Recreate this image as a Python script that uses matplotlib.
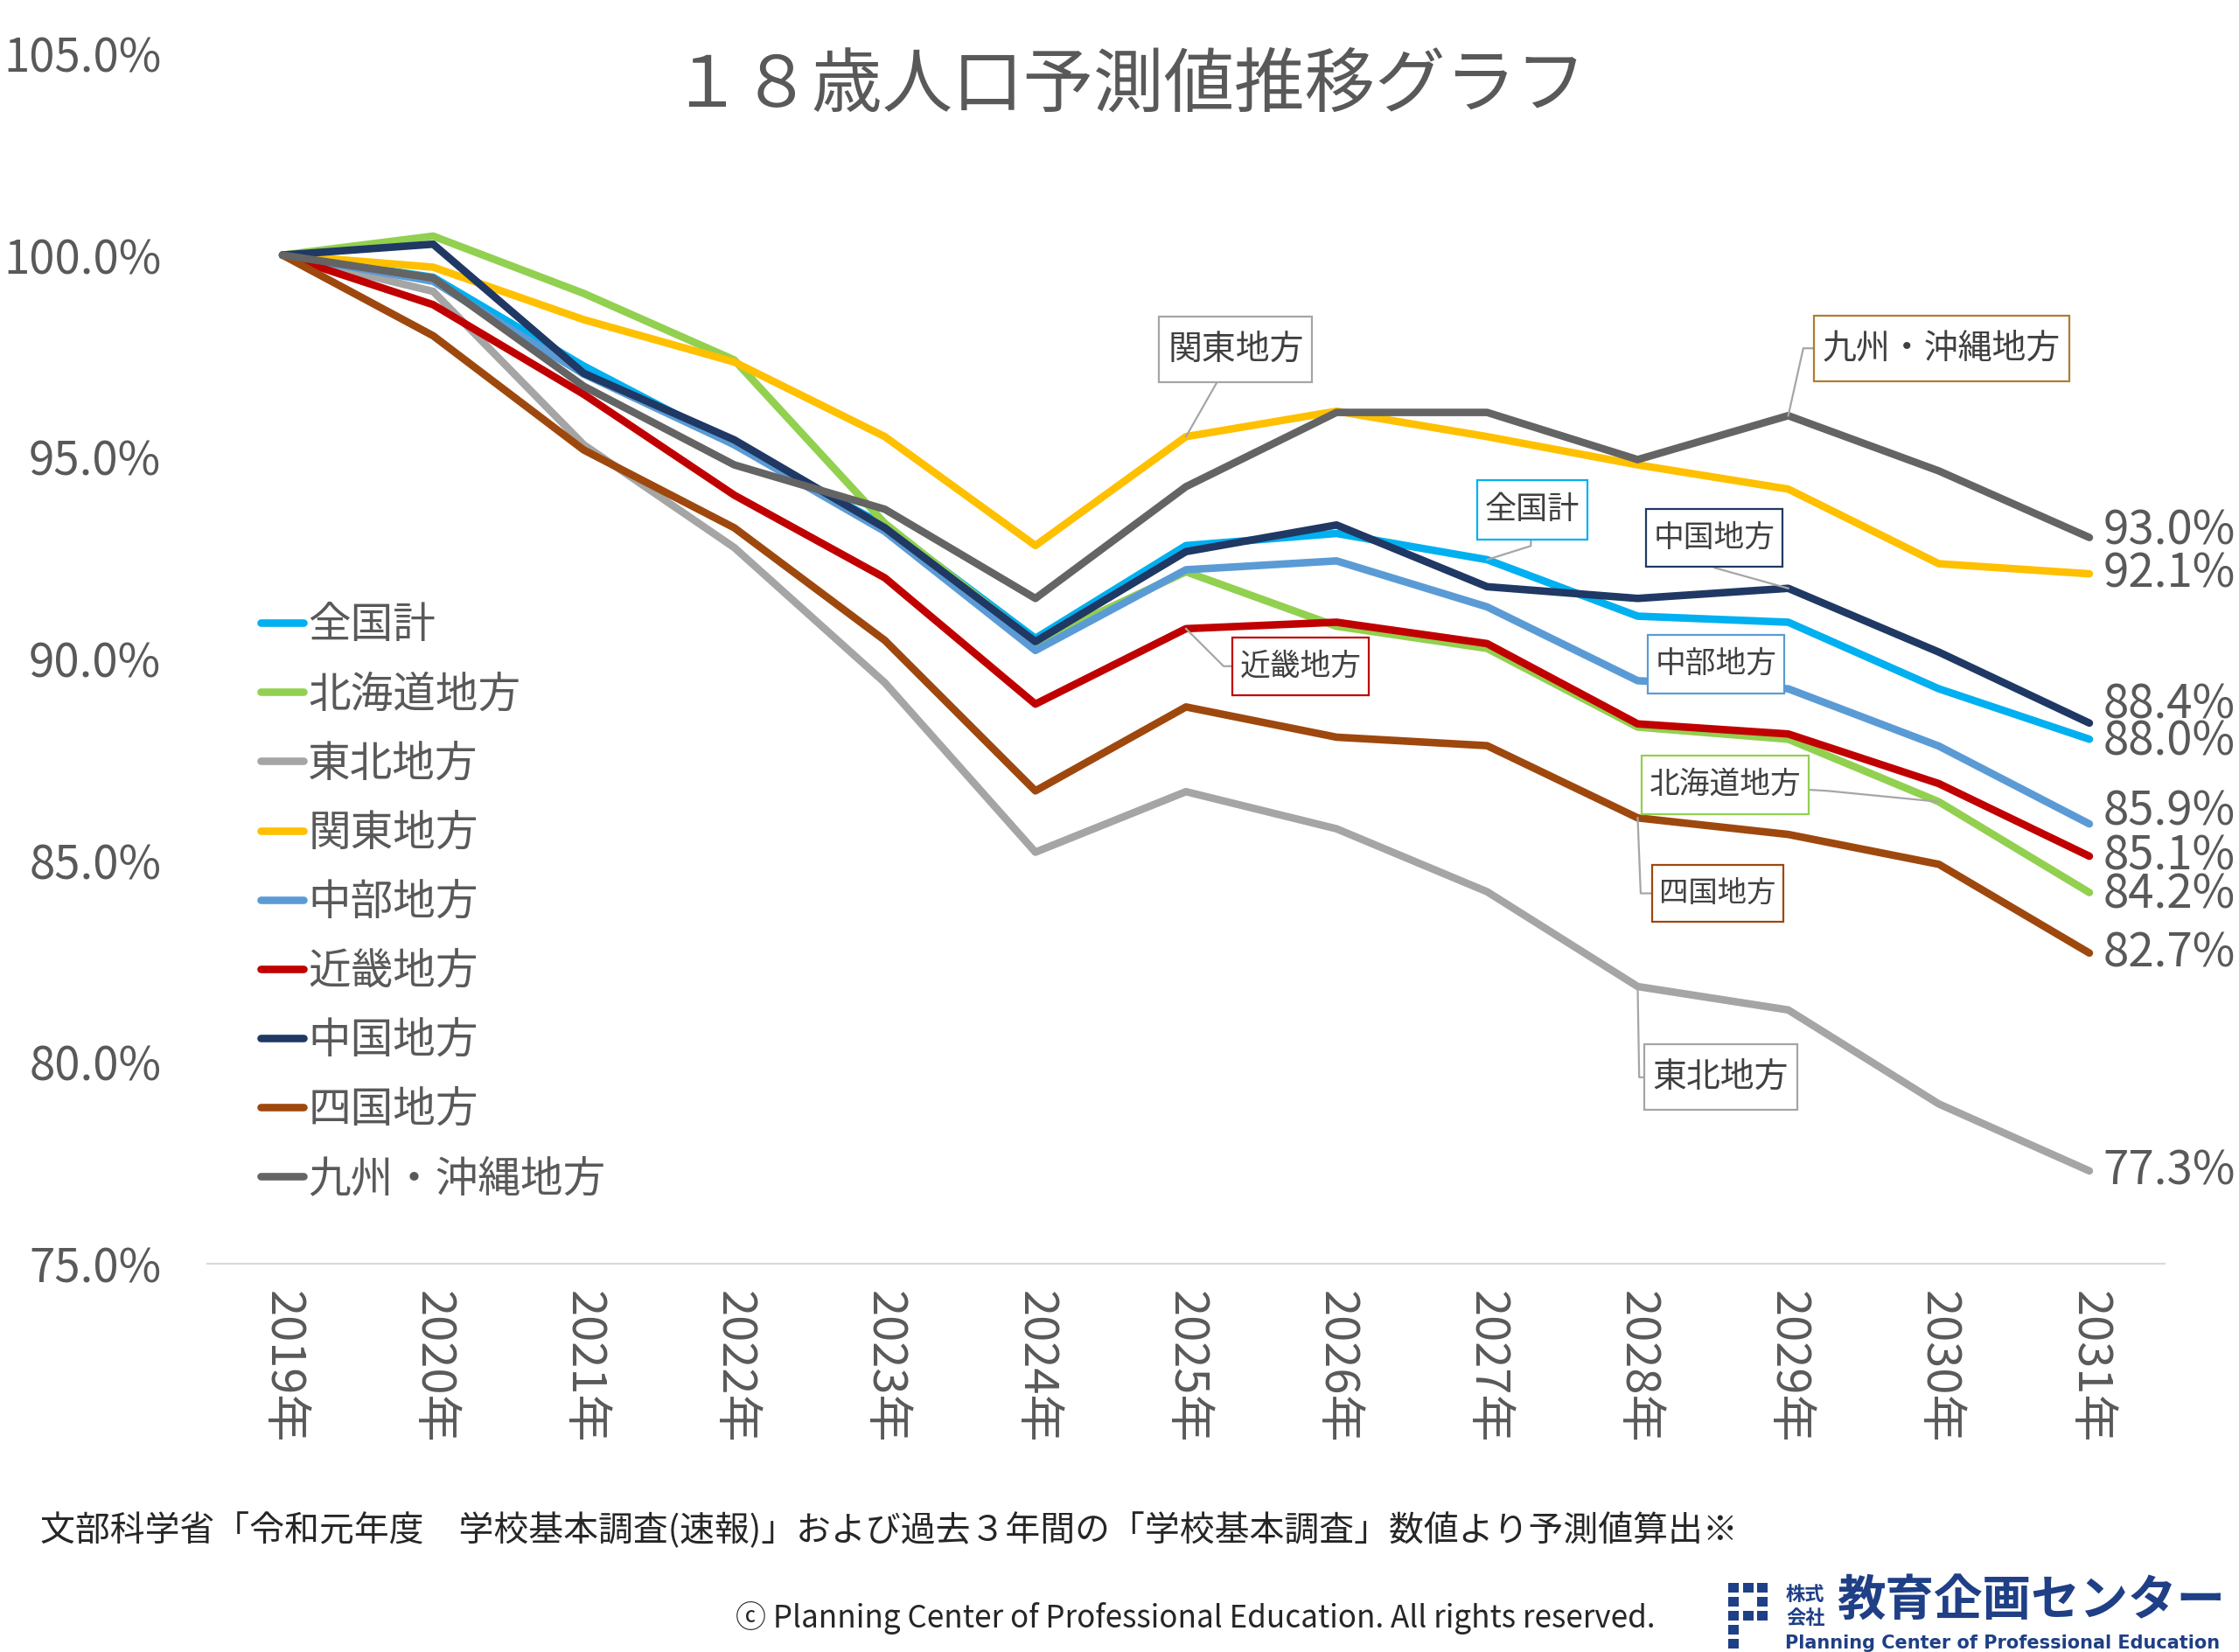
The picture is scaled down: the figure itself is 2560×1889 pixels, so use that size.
import matplotlib
matplotlib.use('Agg')
import matplotlib.pyplot as plt
from matplotlib.patches import Rectangle
from matplotlib.path import Path

plt.rcParams['font.family'] = ['Noto Sans CJK JP', 'DejaVu Sans']

# ---- data ----
years = ['2019年', '2020年', '2021年', '2022年', '2023年', '2024年', '2025年',
         '2026年', '2027年', '2028年', '2029年', '2030年', '2031年']
regions = ['全国計', '北海道地方', '東北地方', '関東地方', '中部地方',
           '近畿地方', '中国地方', '四国地方', '九州・沖縄地方']
zenkoku = [100.0, 99.45, 97.25, 95.3, 93.3, 90.5, 92.8, 93.1, 92.45, 91.05, 90.9, 89.25, 88.0]
hokkaido = [100.0, 100.47, 99.05, 97.4, 93.35, 90.4, 92.15, 90.8, 90.25, 88.3, 88.0, 86.45, 84.2]
tohoku = [100.0, 99.1, 95.3, 92.75, 89.4, 85.2, 86.7, 85.78, 84.22, 81.87, 81.29, 78.96, 77.3]
kanto = [100.0, 99.7, 98.4, 97.35, 95.5, 92.8, 95.5, 96.13, 95.5, 94.8, 94.2, 92.35, 92.1]
chubu = [100.0, 99.35, 97.05, 95.3, 93.15, 90.2, 92.2, 92.42, 91.28, 89.45, 89.25, 87.83, 85.9]
kinki = [100.0, 98.77, 96.55, 94.05, 92.0, 88.87, 90.74, 90.9, 90.37, 88.38, 88.13, 86.9, 85.1]
chugoku = [100.0, 100.27, 97.07, 95.42, 93.24, 90.42, 92.65, 93.31, 91.78, 91.49, 91.74, 90.16, 88.4]
shikoku = [100.0, 98.0, 95.17, 93.24, 90.45, 86.72, 88.8, 88.05, 87.84, 86.05, 85.64, 84.9, 82.7]
kyushu = [100.0, 99.43, 96.75, 94.8, 93.7, 91.49, 94.26, 96.1, 96.1, 94.93, 96.02, 94.65, 93.0]
series = [zenkoku, hokkaido, tohoku, kanto, chubu, kinki, chugoku, shikoku, kyushu]

colors = ['#00B0F0', '#92D050', '#A5A5A5', '#FFC000', '#5B9BD5',
          '#C00000', '#203864', '#9E480E', '#646464']
# small vertical nudges of the end labels (as in the original)
end_nudge = [-0.07, -0.05, 0.0, 0.0, 0.3, 0.0, 0.45, 0.0, 0.17]

# callouts: text, series, year index, box centre, elbow points, size, edge colour
callouts = [
    ('関東地方', 3, 6, (6.33, 97.66), [], 28, '#A5A5A5'),
    ('九州・沖縄地方', 8, 10, (11.02, 97.69), [(10.1, 97.69)], 28, '#B07D2E'),
    ('全国計', 0, 8, (8.30, 93.68), [(8.29, 92.79)], 26, '#00B0F0'),
    ('中国地方', 6, 10, (9.51, 92.99), [(9.51, 92.25)], 25, '#203864'),
    ('中部地方', 4, 9, (9.52, 89.86), None, 25, '#5B9BD5'),
    ('近畿地方', 5, 6, (6.76, 89.81), [(6.25, 89.81)], 25, '#C00000'),
    ('北海道地方', 1, 11, (9.58, 86.87), [(10.26, 86.72)], 25, '#92D050'),
    ('四国地方', 7, 9, (9.53, 84.18), [(9.02, 84.18)], 24, '#9E480E'),
    ('東北地方', 2, 9, (9.55, 79.62), [(9.01, 79.62)], 28, '#A5A5A5'),
]

title = '１８歳人口予測値推移グラフ'
source_note = '文部科学省「令和元年度　学校基本調査(速報)」および過去３年間の「学校基本調査」数値より予測値算出※'
copyright_note = 'ⓒ Planning Center of Professional Education. All rights reserved.'


def callout_box(x0, y0, width, height, mutation_size):
    # square box, a bit more padding top/bottom than left/right
    px = 0.25 * mutation_size
    py = 0.45 * mutation_size
    x0, y0 = x0 - px, y0 - py
    x1, y1 = x0 + width + 2 * px, y0 + height + 2 * py
    return Path([(x0, y0), (x1, y0), (x1, y1), (x0, y1), (x0, y0)], closed=True)


W, H = 2560, 1889
fig = plt.figure(figsize=(W / 100, H / 100), dpi=100)
ax = fig.add_axes([237 / W, 1 - 1445 / H, (2475 - 237) / W, (1445 - 61) / H])

txt = '#595959'
x = list(range(len(years)))
lines = []
for vals, c, name in zip(series, colors, regions):
    ln, = ax.plot(x, vals, color=c, lw=6.2, solid_capstyle='round',
                  solid_joinstyle='round', label=name, zorder=3)
    lines.append(ln)

# end-of-line value labels
for vals, nud in zip(series, end_nudge):
    ax.annotate('{:.1f}%'.format(vals[-1]), xy=(x[-1], vals[-1] + nud),
                xytext=(11, 0), textcoords='offset points', ha='left',
                va='center', fontsize=38, color=txt, annotation_clip=False)

# callout boxes with leader lines
for text, si, yi, (bx, by), elbows, fs, ec in callouts:
    if elbows is not None:
        px = [x[yi]] + [e[0] for e in elbows] + [bx]
        py = [series[si][yi]] + [e[1] for e in elbows] + [by]
        ax.plot(px, py, color='#A6A6A6', lw=1.6, zorder=4)
    ax.text(bx, by, text, ha='center', va='center', fontsize=fs,
            color='#404040', zorder=5,
            bbox=dict(boxstyle=callout_box, fc='white', ec=ec, lw=1.6))

ax.set_xlim(-0.5, len(years) - 0.5)
ax.set_ylim(75, 105)
ax.set_xticks(x)
ax.set_xticklabels(years, rotation=270, fontsize=39, color=txt)
yt = [75, 80, 85, 90, 95, 100, 105]
ax.set_yticks(yt)
ax.set_yticklabels(['{:.1f}%'.format(v) for v in yt], fontsize=38, color=txt)
ax.tick_params(axis='both', length=0)
ax.tick_params(axis='y', pad=38)
ax.tick_params(axis='x', pad=22)
for s in ['top', 'right', 'left']:
    ax.spines[s].set_visible(False)
ax.spines['bottom'].set_color('#D9D9D9')
ax.spines['bottom'].set_linewidth(1.5)

leg = ax.legend(handles=lines, loc='center left',
                bbox_to_anchor=(298 / W, 1 - 1032 / H),
                bbox_transform=fig.transFigure, frameon=False, fontsize=35,
                handlelength=1.0, handletextpad=0.12, labelspacing=0.61,
                borderpad=0, borderaxespad=0, labelcolor=txt)

fig.text(1290 / W, 1 - 98 / H, title, ha='center', va='center',
         fontsize=58, color=txt)
fig.text(46 / W, 1 - 1750 / H, source_note, ha='left', va='center',
         fontsize=28.7, color='#262626')
fig.text(841 / W, 1 - 1850 / H, copyright_note, ha='left', va='center',
         fontsize=25.2, color='#262626')

# company logo
navy = '#1F3F86'
cells = [(0, 0), (0, 1), (0, 2), (1, 0), (1, 2), (2, 0), (2, 1), (2, 2), (3, 0), (4, 0)]
for r, c in cells:
    px0 = 1976 + c * 16.5
    py0 = 1810 + r * 16
    fig.add_artist(Rectangle((px0 / W, 1 - (py0 + 11) / H), 12 / W, 11 / H,
                             transform=fig.transFigure, color=navy, lw=0))
fig.text(2042 / W, 1 - 1824 / H, '株式', ha='left', va='center', fontsize=16,
         color=navy, weight='bold')
fig.text(2042 / W, 1 - 1850 / H, '会社', ha='left', va='center', fontsize=16,
         color=navy, weight='bold')
fig.text(2100 / W, 1 - 1832 / H, '教育企画センター', ha='left', va='center',
         fontsize=40, color=navy, weight='bold')
fig.text(2041 / W, 1 - 1879 / H, 'Planning Center of Professional Education',
         ha='left', va='center', fontsize=15, color=navy, weight='bold',
         family='DejaVu Sans')

fig.savefig('out.png', dpi=100, facecolor='white')
